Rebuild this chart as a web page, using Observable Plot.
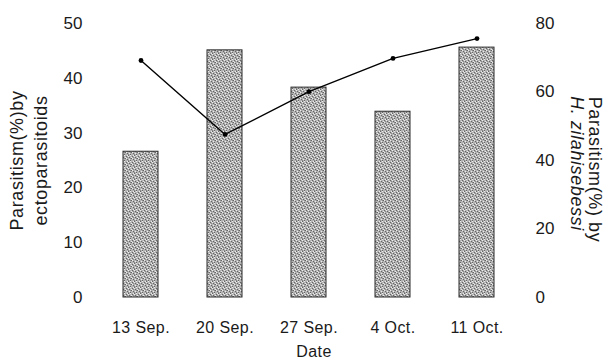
<!DOCTYPE html>
<html>
<head>
<meta charset="utf-8">
<script src="https://cdn.jsdelivr.net/npm/d3@7"></script>
<script src="https://cdn.jsdelivr.net/npm/@observablehq/plot@0.6"></script>
<style>
  html, body { margin: 0; padding: 0; background: #fff; }
  #chart svg { display: block; }
  .ttl text { letter-spacing: 0.6px; }
  .xax text { letter-spacing: 0.4px; }
</style>
</head>
<body>
<div id="chart"></div>
<script>
// Data
const dates = ["13 Sep.", "20 Sep.", "27 Sep.", "4 Oct.", "11 Oct."];
const ectoparasitoids = [26.6, 45.1, 38.3, 33.9, 45.6];   // left axis, bars
const zilahisebessi = [69.2, 47.6, 60.1, 69.8, 75.6];    // right axis, line
const leftTicks = [0, 10, 20, 30, 40, 50];
const rightTicks = [0, 20, 40, 60, 80];
const leftMax = 50, rightMax = 80;

const data = dates.map((d, i) => ({date: d, ecto: ectoparasitoids[i], zil: zilahisebessi[i]}));
const toLeft = v => v * leftMax / rightMax;

const font = "'Liberation Sans', Arial, Helvetica, sans-serif";

const chart = Plot.plot({
  width: 608,
  height: 363,
  marginTop: 23,
  marginBottom: 66,
  marginLeft: 98,
  marginRight: 89,
  style: {fontFamily: font, fontSize: "17px", background: "#fff", color: "#1a1a1a"},
  x: {domain: dates, paddingInner: 0.58, paddingOuter: 0.29, axis: null},
  y: {domain: [0, leftMax], axis: null},
  marks: [
    Plot.barY(data, {x: "date", y: "ecto", fill: "url(#stipple)", stroke: "#2a2a2a", strokeWidth: 1}),
    Plot.line(data, {x: "date", y: d => toLeft(d.zil), stroke: "#000", strokeWidth: 1.4}),
    Plot.dot(data, {x: "date", y: d => toLeft(d.zil), r: 2.4, fill: "#000", stroke: "none"}),
    Plot.axisY(leftTicks, {anchor: "left", tickSize: 0, tickPadding: 16, label: null, fontSize: 17}),
    Plot.axisY(rightTicks.map(toLeft), {anchor: "right", tickSize: 0, tickPadding: 16, label: null, fontSize: 17,
      tickFormat: d => String(Math.round(d * rightMax / leftMax))}),
    Plot.axisX({tickSize: 0, tickPadding: 24, label: null, fontSize: 16, className: "xax"}),
    Plot.text(["Date"], {frameAnchor: "bottom", dx: 5, dy: 59, fontSize: 16, className: "xax"}),
    Plot.text(["Parasitism(%)by"], {frameAnchor: "left", textAnchor: "middle", rotate: -90, dx: -81, fontSize: 18, className: "ttl"}),
    Plot.text(["ectoparasitoids"], {frameAnchor: "left", textAnchor: "middle", rotate: -90, dx: -57, fontSize: 18, className: "ttl"}),
    Plot.text(["Parasitism(%) by"], {frameAnchor: "right", textAnchor: "middle", rotate: 90, dx: 75, dy: 9, fontSize: 18, className: "ttl"}),
    Plot.text(["H. zilahisebessi"], {frameAnchor: "right", textAnchor: "middle", rotate: 90, dx: 57, dy: 3, fontSize: 18, fontStyle: "italic", className: "ttl"})
  ]
});

// stipple texture for the bars
const ns = "http://www.w3.org/2000/svg";
const defs = document.createElementNS(ns, "defs");
const pat = document.createElementNS(ns, "pattern");
pat.setAttribute("id", "stipple");
pat.setAttribute("patternUnits", "userSpaceOnUse");
pat.setAttribute("width", "6");
pat.setAttribute("height", "6");
const px = (x, y, c) => {
  const r = document.createElementNS(ns, "rect");
  r.setAttribute("x", x); r.setAttribute("y", y);
  r.setAttribute("width", 1); r.setAttribute("height", 1);
  r.setAttribute("fill", c);
  pat.appendChild(r);
};
const bg = document.createElementNS(ns, "rect");
bg.setAttribute("width", 6); bg.setAttribute("height", 6); bg.setAttribute("fill", "#b4b4b4");
pat.appendChild(bg);
[[0,0],[3,1],[1,3],[4,4],[2,5],[5,2]].forEach(([x,y]) => px(x, y, "#666666"));
[[2,0],[5,1],[0,2],[3,3],[1,5],[4,5]].forEach(([x,y]) => px(x, y, "#ececec"));
[[1,1],[4,2],[2,4]].forEach(([x,y]) => px(x, y, "#888888"));
defs.appendChild(pat);
chart.insertBefore(defs, chart.firstChild);

document.getElementById("chart").appendChild(chart);
</script>
</body>
</html>
